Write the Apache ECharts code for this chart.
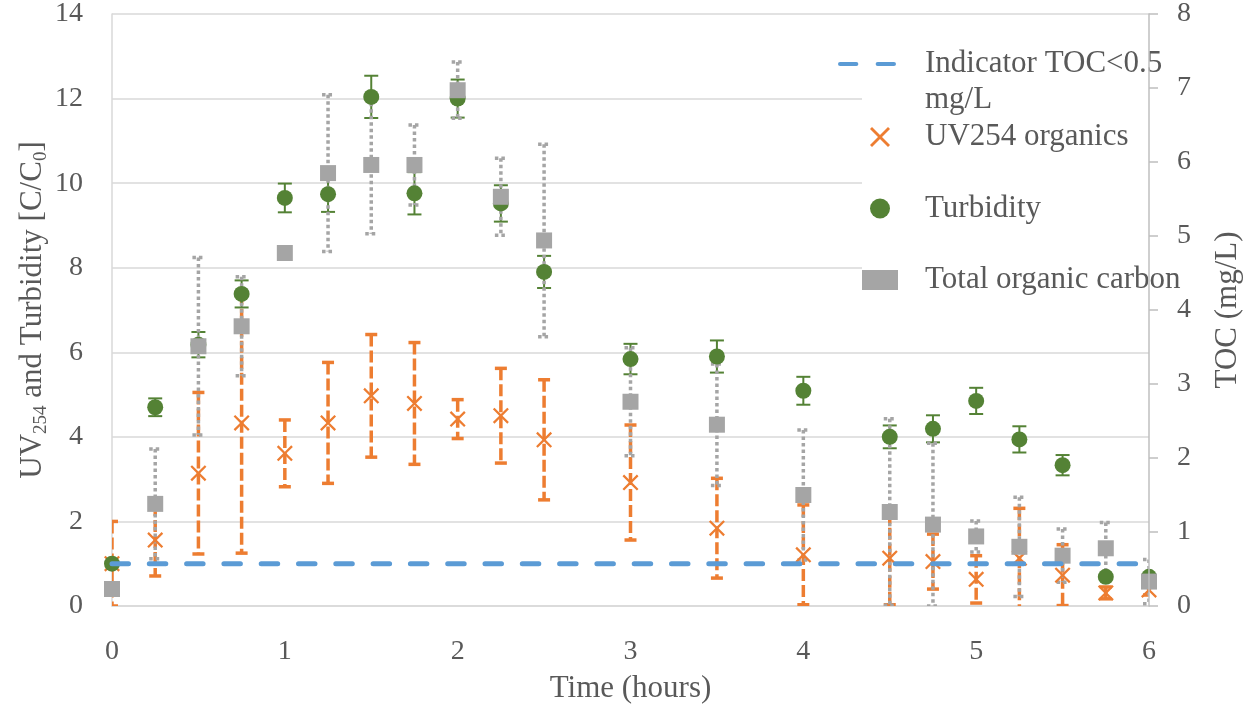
<!DOCTYPE html>
<html>
<head>
<meta charset="utf-8">
<script src="https://cdn.jsdelivr.net/npm/echarts@6/dist/echarts.min.js"></script>
<style>
html,body{margin:0;padding:0;background:#fff}
#chart{width:1247px;height:706px}
</style>
</head>
<body>
<div id="chart"></div>
<script>
// time points (hours)
const times = [0,0.25,0.5,0.75,1,1.25,1.5,1.75,2,2.25,2.5,3,3.5,4,4.5,4.75,5,5.25,5.5,5.75,6]
// UV254 organics C/C0 and error
const uv = [1.0,1.56,3.14,4.33,3.61,4.33,4.97,4.79,4.42,4.5,3.93,2.92,1.84,1.21,1.13,1.05,0.63,1.13,0.73,0.31,0.38]
const uvErr = [1.0,0.85,1.91,3.08,0.79,1.43,1.45,1.44,0.46,1.12,1.42,1.36,1.18,1.18,1.1,0.65,0.56,1.18,0.72,0.14,0.12]
// turbidity C/C0 and error
const turbidity = [1.0,4.7,6.18,7.38,9.65,9.74,12.04,9.76,12.0,9.52,7.9,5.84,5.9,5.09,4.0,4.19,4.85,3.94,3.33,0.69,0.69]
const turbidityErr = [0,0.21,0.3,0.32,0.34,0.42,0.5,0.5,0.45,0.43,0.38,0.36,0.38,0.33,0.27,0.32,0.31,0.31,0.24,0,0]
// total organic carbon mg/L and error (right axis)
const toc = [0.23,1.38,3.51,3.78,4.77,5.85,5.96,5.96,6.97,5.53,4.94,2.76,2.45,1.5,1.27,1.1,0.94,0.8,0.68,0.78,0.33]
const tocErr = [0,0.74,1.2,0.67,0,1.06,0.93,0.54,0.38,0.52,1.3,0.73,0.82,0.88,1.26,1.1,0.21,0.67,0.36,0.35,0.3]
// indicator line
const indicatorX = [0,6]
const indicatorY = [1,1]
const xTicks = {min:0,max:6,interval:1}
const leftTicks = {min:0,max:14,interval:2}
const rightTicks = {min:0,max:8,interval:1}

const FONT = "'Liberation Serif', serif"
const TEXT = "#595959"
const GRID = "#d9d9d9"

const points = (vals) => times.map((t,i) => [t, vals[i]])
const bars = (vals,errs) => {
	let out = []
	times.forEach((t,i) => {
		if(errs[i] > 0) out.push([t, vals[i]-errs[i], vals[i]+errs[i]])
	})
	return out
}
// error bar drawing: vertical line and two caps
const errorBar = (color,width,dash,cap) => (params,api) => {
	const x = api.value(0)
	const top = api.coord([x, api.value(2)])
	const bot = api.coord([x, api.value(1)])
	const style = {stroke: color, lineWidth: width, lineDash: dash, fill: null}
	return {
		type: "group",
		children: [
			{type:"line", shape:{x1:top[0],y1:top[1],x2:bot[0],y2:bot[1]}, style},
			{type:"line", shape:{x1:top[0]-cap,y1:top[1],x2:top[0]+cap,y2:top[1]}, style},
			{type:"line", shape:{x1:bot[0]-cap,y1:bot[1],x2:bot[0]+cap,y2:bot[1]}, style}
		]
	}
}

const chart = echarts.init(document.getElementById("chart"))
chart.setOption({
	animation: false,
	backgroundColor: "#fff",
	textStyle: {fontFamily: FONT, color: TEXT},
	grid: {left: 112, right: 98, top: 14, bottom: 100, outerBoundsMode: "none"},
	legend: [
		{
			data: [{name: "Indicator TOC<0.5 mg/L", icon: "path://M2,0h16a2,2 0 0 1 0,4h-16a2,2 0 0 1 0,-4z M39,0h16a2,2 0 0 1 0,4h-16a2,2 0 0 1 0,-4z"}],
			orient: "vertical",
			left: 838,
			top: 10,
			z: 6,
			padding: 0,
			itemWidth: 58,
			itemHeight: 14,
			formatter: () => "\nIndicator TOC<0.5\nmg/L",
			textStyle: {fontFamily: FONT, fontSize: 31, color: TEXT, lineHeight: 36, padding: [0,0,0,24]}
		},
		{
			data: ["UV254 organics","Turbidity","Total organic carbon"],
			orient: "vertical",
			left: 862,
			top: 89,
			padding: [30,0,10,0],
			itemGap: 35.5,
			itemWidth: 36,
			itemHeight: 20,
			backgroundColor: "#fff",
			textStyle: {fontFamily: FONT, fontSize: 31, color: TEXT, lineHeight: 36, padding: [0,0,0,22]}
		}
	],
	xAxis: {
		type: "value",
		...xTicks,
		name: "Time (hours)",
		nameLocation: "middle",
		nameGap: 65,
		nameMoveOverlap: false,
		nameTextStyle: {fontFamily: FONT, fontSize: 31, color: TEXT, lineHeight: 36},
		axisLine: {show: true, lineStyle: {color: GRID, width: 1.5}},
		axisTick: {show: false},
		splitLine: {show: false},
		axisLabel: {fontFamily: FONT, fontSize: 28, color: TEXT, margin: 32}
	},
	yAxis: [
		{
			type: "value",
			...leftTicks,
			name: "UV{sub|254} and Turbidity [C/C{sub|0}]",
			nameLocation: "middle",
			nameRotate: 90,
			nameGap: 61,
			nameMoveOverlap: false,
			nameTextStyle: {
				fontFamily: FONT, fontSize: 31, color: TEXT, lineHeight: 36,
				rich: {sub: {fontFamily: FONT, fontSize: 19, color: TEXT, lineHeight: 19, verticalAlign: "bottom"}}
			},
			axisLine: {show: true, lineStyle: {color: GRID, width: 1.5}},
			axisTick: {show: false},
			splitLine: {show: true, lineStyle: {color: GRID, width: 1.5}},
			axisLabel: {fontFamily: FONT, fontSize: 28, color: TEXT, margin: 29}
		},
		{
			type: "value",
			...rightTicks,
			position: "right",
			z: 8,
			name: "TOC (mg/L)",
			nameLocation: "middle",
			nameRotate: 90,
			nameGap: 61,
			nameMoveOverlap: false,
			nameTextStyle: {fontFamily: FONT, fontSize: 31, color: TEXT, lineHeight: 36},
			axisLine: {show: true, lineStyle: {color: "#bfbfbf", width: 1.5}},
			axisTick: {show: true, length: 9, lineStyle: {color: "#bfbfbf", width: 1.5}},
			splitLine: {show: false},
			axisLabel: {fontFamily: FONT, fontSize: 28, color: TEXT, margin: 28, hideOverlap: false}
		}
	],
	series: [
		{
			name: "Indicator TOC<0.5 mg/L",
			type: "line",
			data: indicatorX.map((x,i) => [x, indicatorY[i]]),
			symbol: "none",
			lineStyle: {color: "#5b9bd5", width: 5, type: [16.5,20.8], cap: "round"},
			itemStyle: {color: "#5b9bd5"}
		},
		{
			name: "uv-err",
			type: "custom",
			clip: true,
			data: bars(uv, uvErr),
			encode: {x: 0, y: [1,2]},
			renderItem: errorBar("#ed7d31", 3.5, [12,4], 6)
		},
		{
			name: "UV254 organics",
			type: "scatter",
			data: points(uv),
			symbol: "path://M0,1L1,0L5,4L9,0L10,1L6,5L10,9L9,10L5,6L1,10L0,9L4,5Z",
			symbolSize: 16,
			itemStyle: {color: "#ed7d31", opacity: 1}
		},
		{
			name: "turb-err",
			type: "custom",
			clip: true,
			data: bars(turbidity, turbidityErr),
			encode: {x: 0, y: [1,2]},
			renderItem: errorBar("#548235", 2, null, 7)
		},
		{
			name: "Turbidity",
			type: "scatter",
			data: points(turbidity),
			symbol: "circle",
			symbolSize: 16,
			itemStyle: {color: "#548235", opacity: 1}
		},
		{
			name: "toc-err",
			type: "custom",
			yAxisIndex: 1,
			clip: true,
			data: bars(toc, tocErr),
			encode: {x: 0, y: [1,2]},
			renderItem: errorBar("#a5a5a5", 3.5, [3.5,3], 6)
		},
		{
			name: "Total organic carbon",
			type: "scatter",
			yAxisIndex: 1,
			data: points(toc),
			symbol: "rect",
			symbolSize: 16,
			itemStyle: {color: "#a5a5a5", opacity: 1}
		}
	]
})
</script>
</body>
</html>
